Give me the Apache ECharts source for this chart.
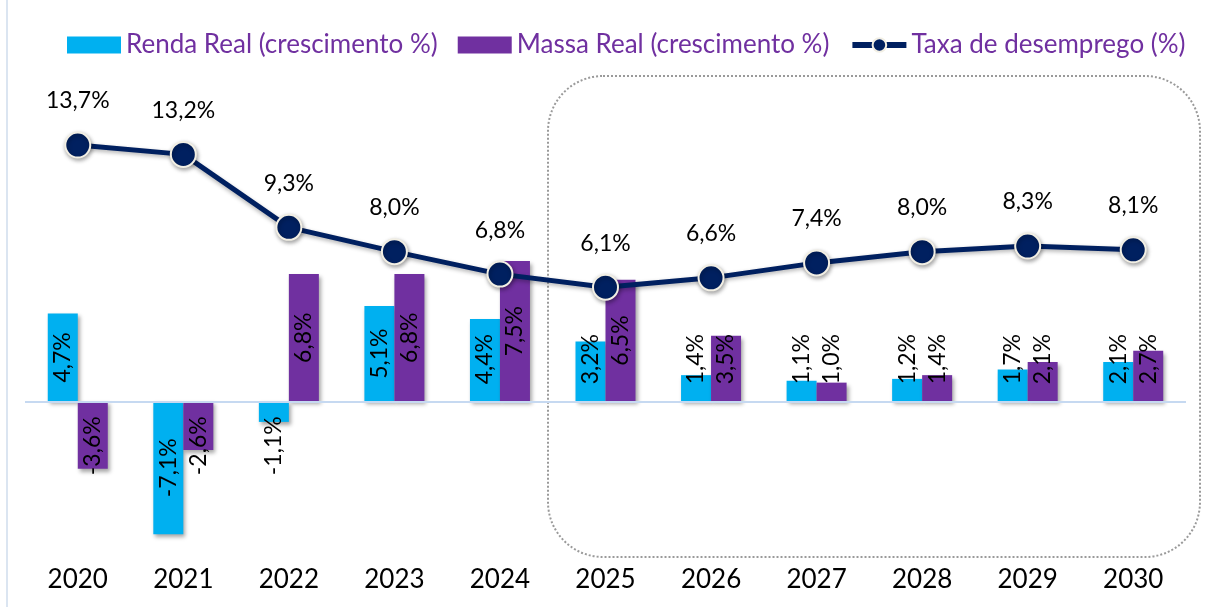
<!DOCTYPE html>
<html>
<head>
<meta charset="utf-8">
<style>
  html, body { margin: 0; padding: 0; background: #fff; }
  #chart { width: 1214px; height: 607px; }
</style>
<script src="https://cdn.jsdelivr.net/npm/echarts@6/dist/echarts.min.js"></script>
</head>
<body>
<div id="chart"></div>
<script>
// anos
const years = ['2020', '2021', '2022', '2023', '2024', '2025', '2026', '2027', '2028', '2029', '2030'];
// Renda Real (crescimento %)
const rendaReal = [4.7, -7.1, -1.1, 5.1, 4.4, 3.2, 1.4, 1.1, 1.2, 1.7, 2.1];
// Massa Real (crescimento %)
const massaReal = [-3.6, -2.6, 6.8, 6.8, 7.5, 6.5, 3.5, 1.0, 1.4, 2.1, 2.7];
// Taxa de desemprego (%)
const desemprego = [13.7, 13.2, 9.3, 8.0, 6.8, 6.1, 6.6, 7.4, 8.0, 8.3, 8.1];

const fmt = v => v.toFixed(1).replace('.', ',') + '%';
const font = 'Lato';

// rotulo das barras: centralizado se cabe, senão encostado na base
function barItem(v) {
  let label;
  if (v >= 4.6 || v <= -5) {
    label = { position: 'inside', rotate: 90 };
  } else if (v >= 0) {
    label = { position: 'insideBottom', rotate: 90, align: 'left', verticalAlign: 'middle', distance: 17 };
  } else {
    label = { position: 'insideTop', rotate: 90, align: 'right', verticalAlign: 'middle', distance: 15 };
  }
  return { value: v, label: label };
}

const barShadow = {
  shadowColor: 'rgba(0,0,0,0.35)',
  shadowBlur: 4,
  shadowOffsetX: 2,
  shadowOffsetY: 3
};

const barLabel = {
  show: true,
  color: '#000',
  fontFamily: font,
  fontSize: 23,
  formatter: p => fmt(p.value)
};

let chart = echarts.init(document.getElementById('chart'));
let option = {
  backgroundColor: '#fff',
  animation: false,
  legend: {
    top: 27,
    left: 62,
    itemWidth: 54,
    itemHeight: 17,
    itemGap: 20,
    textStyle: { color: '#7030A0', fontFamily: font, fontSize: 26 },
    data: [
      { name: 'Renda Real (crescimento %)', icon: 'rect' },
      { name: 'Massa Real (crescimento %)', icon: 'rect' },
      { name: 'Taxa de desemprego (%)', lineStyle: { width: 6 } }
    ]
  },
  grid: { left: 25, right: 28, top: 102, bottom: 56, containLabel: false },
  xAxis: {
    type: 'category',
    data: years,
    axisLine: { show: false, onZero: false },
    axisTick: { show: false },
    axisLabel: { color: '#000', fontFamily: font, fontSize: 26, margin: 16 }
  },
  yAxis: {
    type: 'value',
    min: -8,
    max: 16,
    show: false,
    splitLine: { show: false }
  },
  graphic: [
    {
      type: 'line',
      shape: { x1: 7, y1: 0, x2: 7, y2: 607 },
      style: { stroke: '#dbe5f1', lineWidth: 2 },
      silent: true
    },
    {
      type: 'rect',
      shape: { x: 548, y: 76, width: 652, height: 481, r: 55 },
      style: { fill: 'none', stroke: '#9a9a9a', lineWidth: 2, lineDash: [2, 2] },
      silent: true,
      z: -1
    }
  ],
  series: [
    {
      name: 'Renda Real (crescimento %)',
      type: 'bar',
      barWidth: 30,
      barGap: '0%',
      itemStyle: Object.assign({ color: '#00B0F0' }, barShadow),
      label: barLabel,
      data: rendaReal.map(barItem),
      markLine: {
        silent: true,
        symbol: 'none',
        label: { show: false },
        lineStyle: { color: '#c6d9f1', width: 2, type: 'solid' },
        data: [{ yAxis: 0 }]
      }
    },
    {
      name: 'Massa Real (crescimento %)',
      type: 'bar',
      barWidth: 30,
      barGap: '0%',
      itemStyle: Object.assign({ color: '#7030A0' }, barShadow),
      label: barLabel,
      data: massaReal.map(barItem)
    },
    {
      name: 'Taxa de desemprego (%)',
      type: 'line',
      z: 5,
      symbol: 'circle',
      symbolSize: 25,
      lineStyle: {
        color: '#002060', width: 5,
        shadowColor: 'rgba(0,0,0,0.3)', shadowBlur: 4, shadowOffsetY: 2
      },
      itemStyle: {
        color: '#002060', borderColor: '#f2efe4', borderWidth: 2,
        shadowColor: 'rgba(0,0,0,0.35)', shadowBlur: 4, shadowOffsetX: 1, shadowOffsetY: 2
      },
      label: {
        show: true,
        position: 'top',
        distance: 19,
        color: '#000',
        fontFamily: font,
        fontSize: 23,
        formatter: p => fmt(p.value)
      },
      data: desemprego
    }
  ]
};
chart.setOption(option);
window.addEventListener('resize', () => {
  chart.resize();
});
</script>
</body>
</html>
